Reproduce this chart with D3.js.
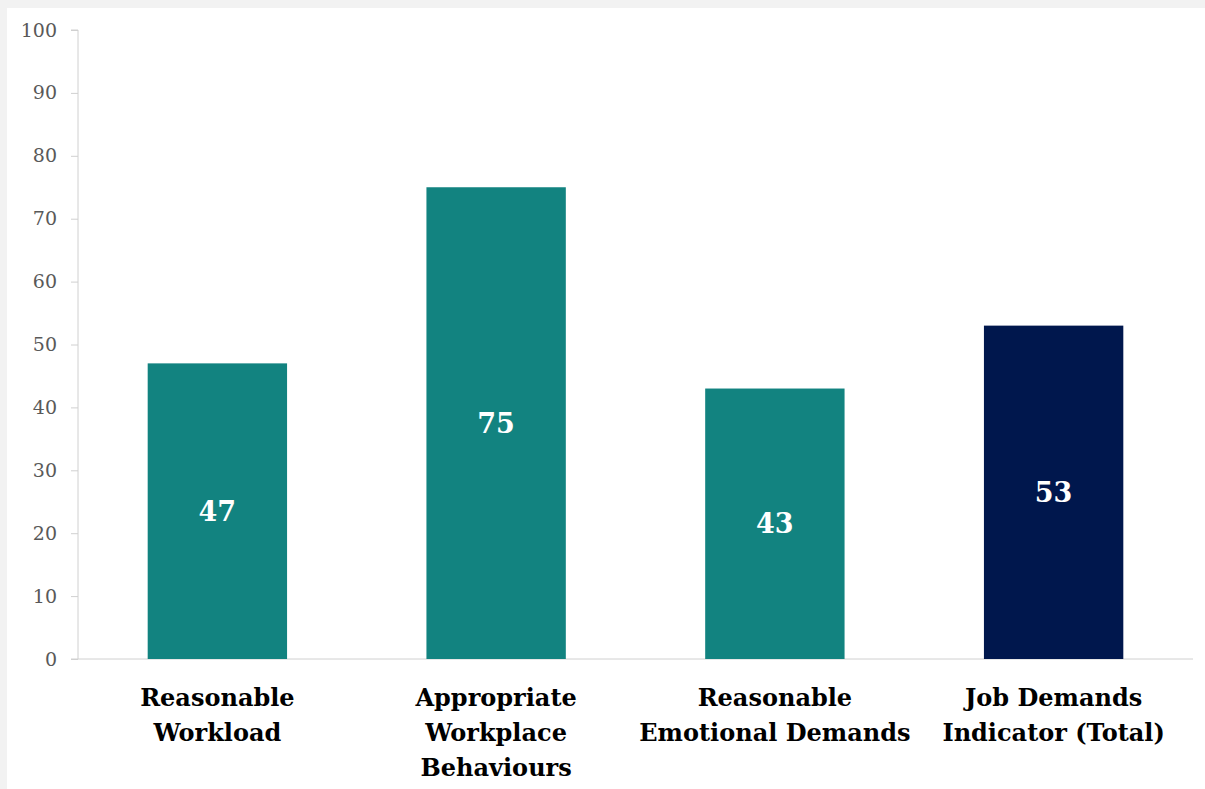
<!DOCTYPE html>
<html>
<head>
<meta charset="utf-8">
<script src="https://cdn.jsdelivr.net/npm/d3@7"></script>
<style>
  body { margin: 0; background: #f2f2f2; }
  svg { display: block; }
  .tick text { font-family: "DejaVu Serif", serif; font-size: 19px; fill: #595959; }
  .cat { font-family: "DejaVu Serif", serif; font-weight: bold; font-size: 24px; fill: #000; }
  .val { font-family: "DejaVu Serif", serif; font-weight: bold; font-size: 27px; fill: #fff; }
</style>
</head>
<body>
<svg id="svg" width="1205" height="789"></svg>
<script>
const categories = [
  ["Reasonable", "Workload"],
  ["Appropriate", "Workplace", "Behaviours"],
  ["Reasonable", "Emotional Demands"],
  ["Job Demands", "Indicator (Total)"]
];
const values = [47, 75, 43, 53];
const colors = ["#128380", "#128380", "#128380", "#00174d"];
const yTicks = [0, 10, 20, 30, 40, 50, 60, 70, 80, 90, 100];

const svg = d3.select("svg#svg");

// white card with grey frame top/left
svg.append("rect")
  .attr("x", 7).attr("y", 8)
  .attr("width", 1198).attr("height", 781)
  .attr("fill", "#fff");

const x = d3.scaleBand()
  .domain(d3.range(values.length))
  .range([78, 1193])
  .paddingInner(0.5)
  .paddingOuter(0.25);

const y = d3.scaleLinear()
  .domain([0, 100])
  .range([659, 30]);

const yAxis = svg.append("g")
  .attr("transform", "translate(78,0)")
  .call(d3.axisLeft(y).tickValues(yTicks).tickSize(7).tickPadding(14));
yAxis.selectAll("line, path").attr("stroke", "#d0d0d0");
yAxis.select(".domain").attr("d", "M-7,30H0V659");

svg.append("line")
  .attr("x1", 71).attr("x2", 1193)
  .attr("y1", y(0)).attr("y2", y(0))
  .attr("stroke", "#d0d0d0");

svg.selectAll("rect.bar")
  .data(values)
  .enter()
  .append("rect")
  .attr("class", "bar")
  .attr("x", (d, i) => x(i))
  .attr("y", d => y(d))
  .attr("width", x.bandwidth())
  .attr("height", d => y(0) - y(d))
  .attr("fill", (d, i) => colors[i]);

svg.selectAll("text.val")
  .data(values)
  .enter()
  .append("text")
  .attr("class", "val")
  .attr("x", (d, i) => x(i) + x.bandwidth() / 2)
  .attr("y", d => (y(d) + y(0)) / 2)
  .attr("text-anchor", "middle")
  .attr("dy", "0.36em")
  .text(d => d);

const cats = svg.selectAll("text.cat")
  .data(categories)
  .enter()
  .append("text")
  .attr("class", "cat")
  .attr("text-anchor", "middle")
  .attr("x", (d, i) => x(i) + x.bandwidth() / 2)
  .attr("y", 706);

cats.selectAll("tspan")
  .data(d => d)
  .enter()
  .append("tspan")
  .attr("x", function() { return this.parentNode.getAttribute("x"); })
  .attr("dy", (d, i) => i === 0 ? 0 : 35)
  .text(d => d);
</script>
</body>
</html>
